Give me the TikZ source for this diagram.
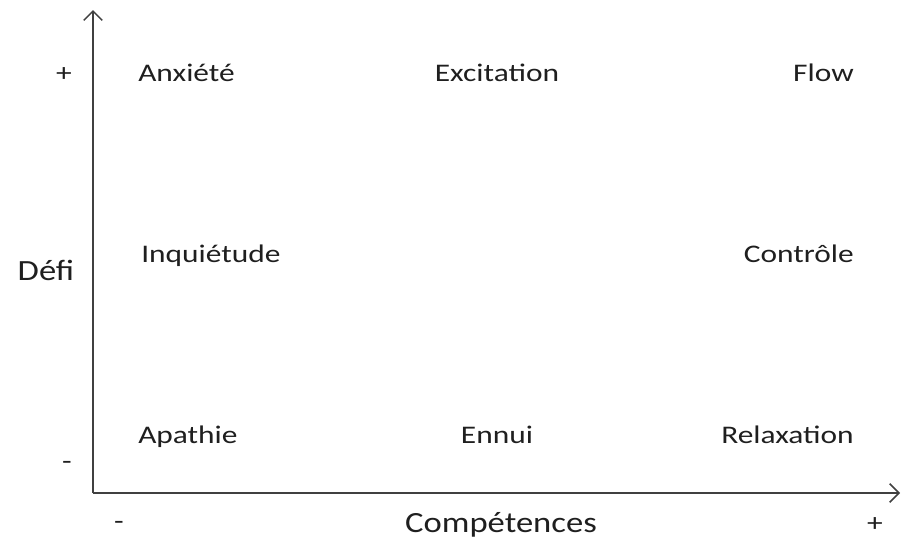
\documentclass[tikz,border=0pt]{standalone}
\usepackage{fontspec}
\setmainfont{Carlito}
\usetikzlibrary{arrows.meta}
\newcommand{\wid}[1]{\scalebox{1.24}[1]{#1}}
\newcommand{\widax}[1]{\scalebox{1.18}[1]{#1}}
\begin{document}
\begin{tikzpicture}[x=0.75pt,y=-0.75pt,
  lbl/.style={font=\fontsize{19}{23}\selectfont, text=black!88, inner sep=0pt},
  axlbl/.style={font=\fontsize{22}{26}\selectfont, text=black!88, inner sep=0pt},
  axis/.style={draw=black!75, line width=1.3pt, -{Straight Barb[length=7pt,width=14pt,line width=1.1pt]}}]
\useasboundingbox (0,0) rectangle (902,540);
\coordinate (o) at (93,493);
\coordinate (ytip) at (93,10);
\coordinate (xtip) at (900,493);
\draw[axis] (o) -- (ytip);
\draw[axis] (o) -- (xtip);
\node[lbl] (yplus) at (64,75) {\wid{+}};
\node[lbl] (yminus) at (67,465) {\wid{-}};
\node[lbl] (xminus) at (119,525) {\wid{-}};
\node[lbl] (xplus) at (875,525) {\wid{+}};
\node[axlbl, anchor=base] (defi) at (46,280) {\widax{Défi}};
\node[axlbl, anchor=base] (comp) at (501,532) {\widax{Compétences}};
\node[lbl, anchor=base west] (anx) at (138,81) {\wid{Anxiété}};
\node[lbl, anchor=base] (exc) at (497,81) {\wid{Excitation}};
\node[lbl, anchor=base east] (flow) at (854,81) {\wid{Flow}};
\node[lbl, anchor=base west] (inq) at (141,262) {\wid{Inquiétude}};
\node[lbl, anchor=base east] (ctrl) at (854,262) {\wid{Contrôle}};
\node[lbl, anchor=base west] (apa) at (138,443) {\wid{Apathie}};
\node[lbl, anchor=base] (ennui) at (497,443) {\wid{Ennui}};
\node[lbl, anchor=base east] (relax) at (854,443) {\wid{Relaxation}};
\end{tikzpicture}
\end{document}
